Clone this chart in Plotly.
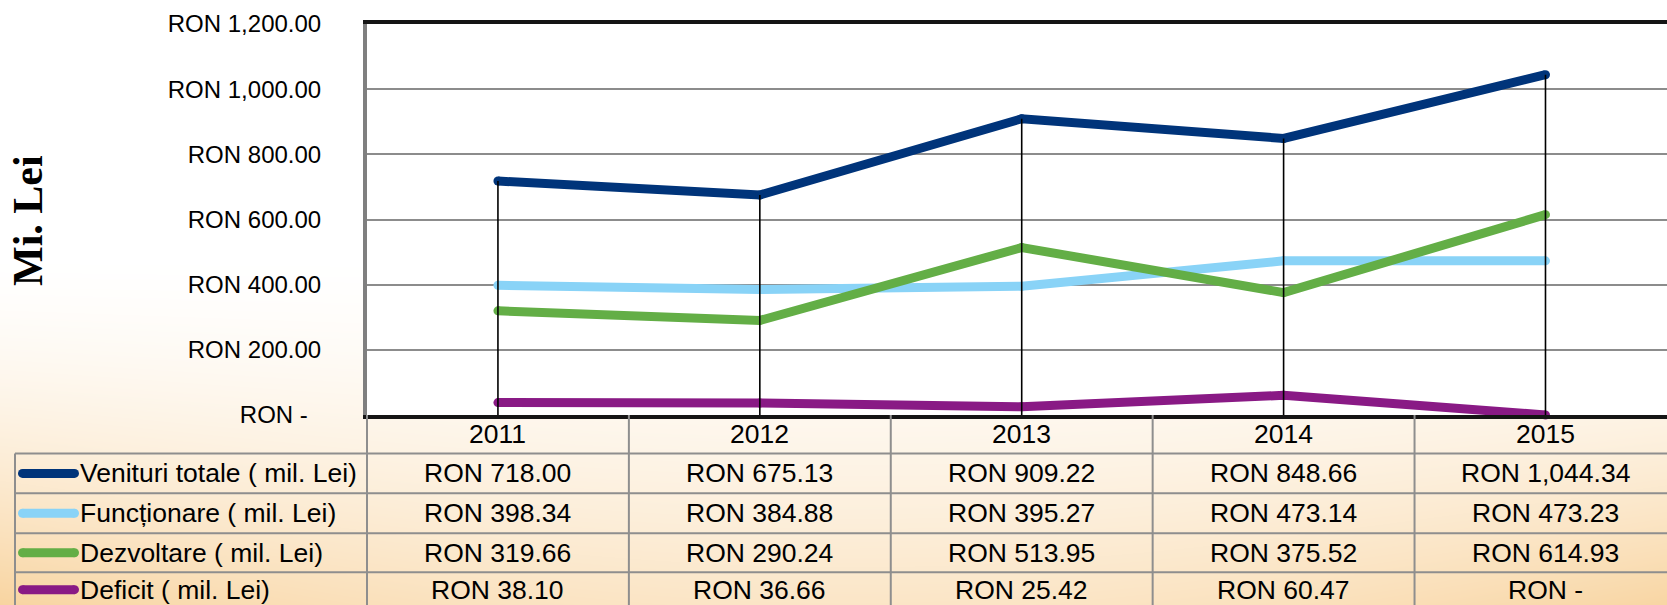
import base64
import struct
import zlib

import numpy as np
import plotly.graph_objects as go

# ---------------- data ----------------
years = ["2011", "2012", "2013", "2014", "2015"]
venituri = [718.00, 675.13, 909.22, 848.66, 1044.34]
functionare = [398.34, 384.88, 395.27, 473.14, 473.23]
dezvoltare = [319.66, 290.24, 513.95, 375.52, 614.93]
deficit = [38.10, 36.66, 25.42, 60.47, 0.0]

series_names = ["Venituri totale ( mil. Lei)", "Funcționare ( mil. Lei)",
                "Dezvoltare ( mil. Lei)", "Deficit ( mil. Lei)"]
series_values = [venituri, functionare, dezvoltare, deficit]
series_colors = ["#00347A", "#89D3F7", "#63AE46", "#891A85"]

y_tick_values = [0, 200, 400, 600, 800, 1000, 1200]
y_title = "Mi. Lei"


def ron(v):
    return "RON -" if v == 0 else f"RON {v:,.2f}"


y_tick_text = [ron(v) + ("\u00a0\u00a0" if v == 0 else "") for v in y_tick_values]

# ---------------- geometry (pixels) ----------------
W, H = 1667, 605
ML, MT = 367, 24
PLOT_BOTTOM = 415
MB = H - PLOT_BOTTOM
PW = W - ML
PH = PLOT_BOTTOM - MT
X_RANGE = [-0.5, 4.464]
FONT = "Liberation Sans, Arial, sans-serif"
TABLE_FONT_SIZE = 26.5


def xp(px):
    return (px - ML) / PW


def yp(py):
    return (PLOT_BOTTOM - py) / PH


def xdata_to_paper(v):
    return (v - X_RANGE[0]) / (X_RANGE[1] - X_RANGE[0])


# ---------------- background gradient image ----------------
def gradient_png():
    yy, xx = np.mgrid[0:H, 0:W].astype(float)
    v = np.clip((yy - 250) / (H - 250), 0, 1) ** 1.6
    h = np.clip(0.6 + 0.4 * ((xx - 850) / 850) ** 2, 0, 1)
    t = (v * h)[..., None]
    white = np.array([255, 255, 255], float)
    peach = np.array([248, 212, 160], float)
    img = white * (1 - t) + peach * t
    img[(xx >= ML) & (yy < PLOT_BOTTOM)] = 255
    img = img.round().astype(np.uint8)
    raw = b"".join(b"\x00" + img[r].tobytes() for r in range(H))

    def chunk(tag, data):
        c = struct.pack(">I", len(data)) + tag + data
        return c + struct.pack(">I", zlib.crc32(tag + data) & 0xFFFFFFFF)

    png = b"\x89PNG\r\n\x1a\n"
    png += chunk(b"IHDR", struct.pack(">IIBBBBB", W, H, 8, 2, 0, 0, 0))
    png += chunk(b"IDAT", zlib.compress(raw, 9))
    png += chunk(b"IEND", b"")
    return "data:image/png;base64," + base64.b64encode(png).decode()


fig = go.Figure()

for name, vals, col in zip(series_names, series_values, series_colors):
    fig.add_trace(go.Scatter(
        x=years, y=vals, mode="lines+markers", name=name,
        line=dict(color=col, width=9),
        marker=dict(color=col, size=9, line=dict(width=0)),
        cliponaxis=False, showlegend=False, hoverinfo="skip"))

# drop lines (from the highest series value to the axis)
dx, dy = [], []
for i, yr in enumerate(years):
    top = max(v[i] for v in series_values)
    dx += [yr, yr, None]
    dy += [0, top, None]
fig.add_trace(go.Scatter(x=dx, y=dy, mode="lines",
                         line=dict(color="black", width=1.6),
                         showlegend=False, hoverinfo="skip"))

shapes = []
annotations = []

# table geometry
header_top = PLOT_BOTTOM
row_lines = [453.5, 493.3, 533.3, 572.3, 607]
header_center = (header_top + row_lines[0]) / 2
row_centers = [(a + b) / 2 for a, b in zip(row_lines[:-1], row_lines[1:])]
grid_col = "#8E8E8E"

for ly in row_lines[:-1]:
    shapes.append(dict(type="line", xref="paper", yref="paper",
                       x0=xp(15), x1=xp(W), y0=yp(ly), y1=yp(ly),
                       line=dict(color=grid_col, width=2)))
shapes.append(dict(type="line", xref="paper", yref="paper",
                   x0=xp(15), x1=xp(15), y0=yp(row_lines[0]), y1=yp(H),
                   line=dict(color=grid_col, width=2)))
for i in range(len(years)):
    b = xdata_to_paper(i - 0.5)
    shapes.append(dict(type="line", xref="paper", yref="paper",
                       x0=b, x1=b, y0=yp(header_top), y1=yp(H),
                       line=dict(color=grid_col, width=2)))

# header row (years)
for i, yr in enumerate(years):
    annotations.append(dict(x=i, xref="x", y=yp(header_center), yref="paper",
                            text=yr, showarrow=False, xanchor="center", yanchor="middle",
                            borderpad=0,
                            font=dict(family=FONT, size=TABLE_FONT_SIZE, color="black")))

# data rows
for r, (name, vals, col) in enumerate(zip(series_names, series_values, series_colors)):
    cy = yp(row_centers[r])
    shapes.append(dict(type="line", xref="paper", yref="paper",
                       x0=xp(22.5), x1=xp(74.5), y0=cy, y1=cy,
                       line=dict(color=col, width=9)))
    for cx in (22.5, 74.5):
        shapes.append(dict(type="circle", xref="paper", yref="paper",
                           x0=xp(cx - 4.5), x1=xp(cx + 4.5),
                           y0=yp(row_centers[r] + 4.5), y1=yp(row_centers[r] - 4.5),
                           fillcolor=col, line=dict(width=0)))
    annotations.append(dict(x=xp(79), xref="paper", y=cy, yref="paper",
                            text=name, showarrow=False, xanchor="left", yanchor="middle",
                            borderpad=0,
                            font=dict(family=FONT, size=TABLE_FONT_SIZE, color="black")))
    for i, v in enumerate(vals):
        annotations.append(dict(x=i, xref="x", y=cy, yref="paper",
                                text=ron(v), showarrow=False, xanchor="center",
                                yanchor="middle", borderpad=0,
                                font=dict(family=FONT, size=TABLE_FONT_SIZE, color="black")))

# y axis title
annotations.append(dict(x=xp(28), xref="paper", y=yp(221), yref="paper",
                        text="<b>" + y_title + "</b>", showarrow=False, textangle=-90,
                        xanchor="center", yanchor="middle",
                        font=dict(family="Liberation Serif, Times New Roman, serif",
                                  size=42, color="black")))

fig.update_layout(
    width=W, height=H,
    margin=dict(l=ML, r=0, t=MT, b=MB, pad=0),
    paper_bgcolor="white", plot_bgcolor="white",
    images=[dict(source=gradient_png(), xref="paper", yref="paper",
                 x=xp(0), y=yp(0), sizex=W / PW, sizey=H / PH,
                 xanchor="left", yanchor="top", sizing="stretch", layer="below")],
    shapes=shapes, annotations=annotations,
    showlegend=False,
    xaxis=dict(type="category", categoryorder="array", categoryarray=years,
               range=X_RANGE, showgrid=False, zeroline=False,
               showticklabels=False, ticks="",
               showline=True, linecolor="#151515", linewidth=4, mirror=True),
    yaxis=dict(range=[0, 1200], tickvals=y_tick_values, ticktext=y_tick_text,
               showgrid=True, gridcolor="#8C8C8C", gridwidth=2, zeroline=False,
               showline=True, linecolor="#7F7F7F", linewidth=4,
               ticks="", ticklabelstandoff=37,
               tickfont=dict(family=FONT, size=24, color="black")),
)

fig.write_html("out.html", config={"displayModeBar": False},
               post_script="document.body.style.margin='0px';")
